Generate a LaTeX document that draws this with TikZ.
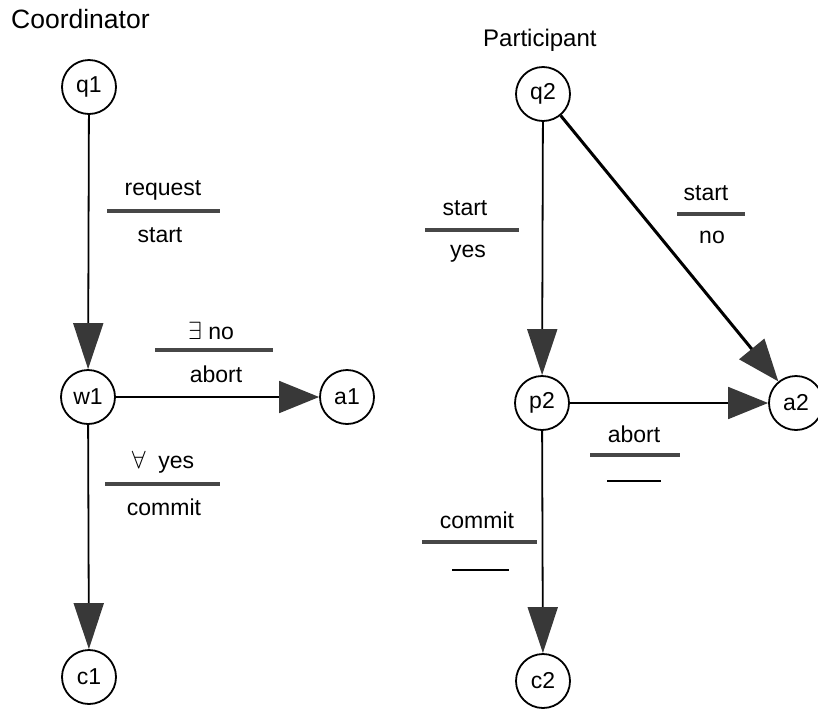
\documentclass[tikz,border=0pt]{standalone}
\usepackage{fontspec}
\setmainfont{Liberation Sans}
\usetikzlibrary{arrows.meta}
\definecolor{tipgray}{gray}{0.22}
\definecolor{bargray}{gray}{0.28}
\newcommand{\labfont}{\fontsize{23}{27}\selectfont}
\begin{document}
\begin{tikzpicture}[x=1pt,y=-1pt,
  state/.style={circle, draw, line width=1.8pt, minimum size=54pt, inner sep=0pt, font=\labfont},
  lbl/.style={anchor=base, inner sep=0pt, font=\labfont},
  title/.style={anchor=base west, inner sep=0pt, font=\fontsize{24}{28}\selectfont},
  conn/.style={line width=1.8pt, -{Triangle[length=46pt,width=30pt,color=tipgray]}},
  side/.style={line width=1.8pt, -{Triangle[length=40pt,width=32pt,color=tipgray]}},
  diag/.style={line width=3pt, -{Triangle[length=42pt,width=32pt,color=tipgray]}},
  bar/.style={line width=4.5pt, draw=bargray},
  thinbar/.style={line width=2pt, draw=black}]
\useasboundingbox (0,0) rectangle (818,710);

% headings
\node[title, font=\fontsize{26.5}{30}\selectfont] (tc) at (11,28) {Coordinator};
\node[title] (tp) at (483,46) {Participant};

% coordinator states
\node[state] (q1) at (89,87) {q1};
\node[state] (w1) at (88,397) {w1};
\node[state] (a1) at (347,397) {a1};
\node[state] (c1) at (89,677) {c1};

% participant states
\node[state] (q2) at (543,94) {q2};
\node[state] (p2) at (542,403) {p2};
\node[state] (a2) at (796,403) {a2};
\node[state] (c2) at (543,681) {c2};

% coordinator transitions
\draw[conn] (q1) -- (w1);
\draw[side] (w1) -- (a1);
\draw[conn] (w1) -- (c1);

% participant transitions
\draw[conn] (q2) -- (p2);
\draw[diag] (q2) -- (a2);
\draw[side] (p2) -- (a2);
\draw[conn] (p2) -- (c2);

% coordinator labels
\node[lbl] (l1a) at (163,195) {request};
\draw[bar] (107,211) -- (220,211);
\node[lbl] (l1b) at (160,242) {start};

\node[lbl] (l2a) at (211,339) {$\exists$ no};
\draw[bar] (155,350) -- (273,350);
\node[lbl] (l2b) at (216,382) {abort};

\node[lbl] (l3a) at (163,468) {$\forall$\ \ yes};
\draw[bar] (105,484) -- (220,484);
\node[lbl] (l3b) at (164,515) {commit};

% participant labels
\node[lbl] (l4a) at (465,215) {start};
\draw[bar] (425,230) -- (519,230);
\node[lbl] (l4b) at (468,257) {yes};

\node[lbl] (l5a) at (706,200) {start};
\draw[bar] (677,214) -- (745,214);
\node[lbl] (l5b) at (712,243) {no};

\node[lbl] (l6a) at (634,442) {abort};
\draw[bar] (590,455) -- (680,455);
\draw[thinbar] (607,481) -- (661,481);

\node[lbl] (l7a) at (477,528) {commit};
\draw[bar] (422,542) -- (537,542);
\draw[thinbar] (452,570) -- (509,570);
\end{tikzpicture}
\end{document}
